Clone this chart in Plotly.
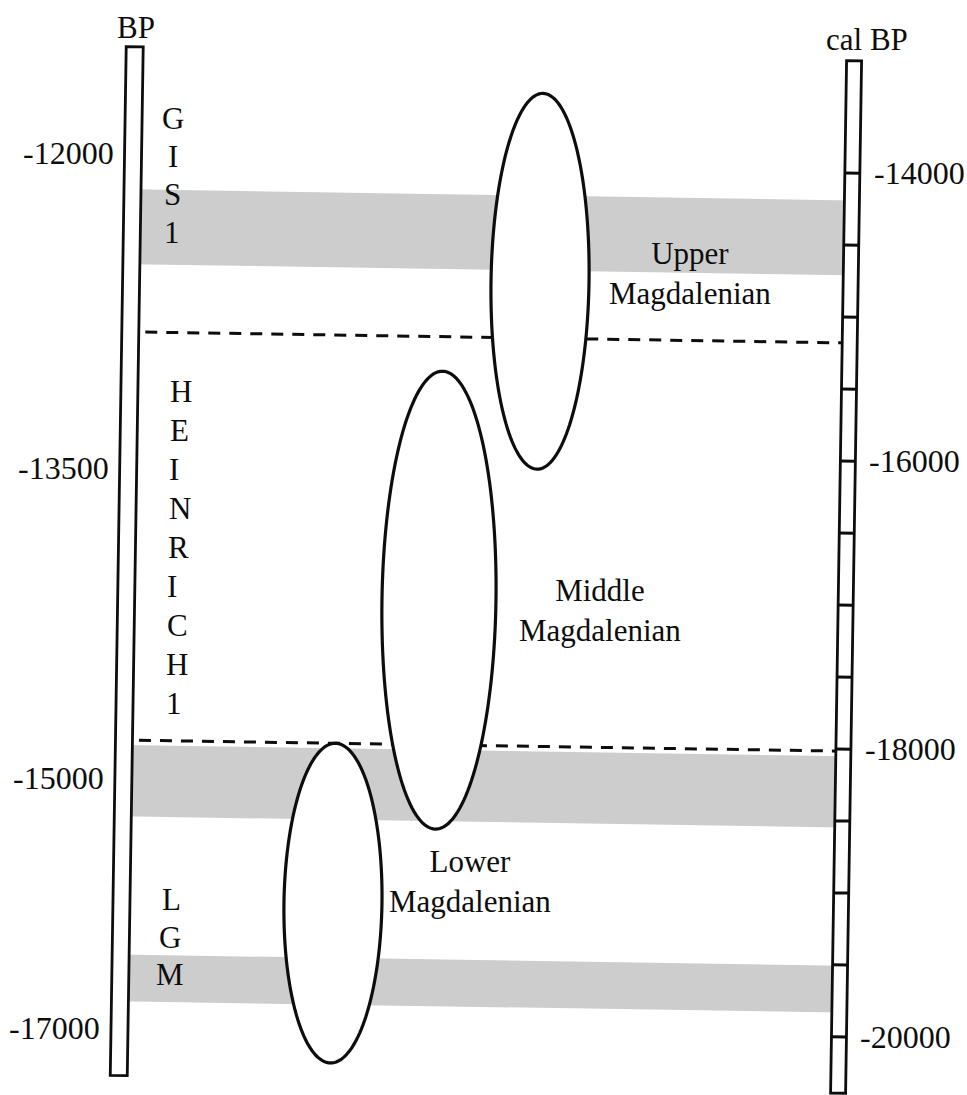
import math
import plotly.graph_objects as go

# ---------------- data ----------------
# right scale (cal BP): tick values
calbp_ticks = [-14000, -14500, -15000, -15500, -16000, -16500, -17000,
               -17500, -18000, -18500, -19000, -19500, -20000]
calbp_labels = [-14000, -16000, -18000, -20000]
# left scale (BP): labels and the cal BP level they sit at
bp_labels = [-12000, -13500, -15000, -17000]
bp_label_cal = [-13940, -16130, -18280, -20015]
# shaded climatic bands (cal BP from, to)
band_from = [-14190, -18050, -19505]
band_to = [-14710, -18545, -19830]
# dashed boundaries (cal BP)
boundaries = [-15180, -18015]
# cultural periods: names and cal BP spans of the ellipses
periods = ["Upper<br>Magdalenian", "Middle<br>Magdalenian", "Lower<br>Magdalenian"]
period_top = [-13480, -15420, -18015]
period_bottom = [-16090, -18600, -20235]
period_label_cal = [-14718, -17062, -18958]
# climatic event labels (written vertically, one letter per line)
events = [["G", "I", "S", "1"],
          ["H", "E", "I", "N", "R", "I", "C", "H", "1"],
          ["L", "G", "M"]]
event_cal = [-14090, -16674, -19378]

# ---------------- layout constants (pixels) ----------------
W, H = 967, 1095
PX_PER_YEAR = 0.144
V0 = 167.4                    # pixel row of -14000 cal BP
THETA = math.atan(0.0155)     # slight tilt of the scanned page
CX, CY = 483, 547

LEFT_BAR = (118.5, 135.5, -13200, -20345)
RIGHT_BAR = (839.0, 854.0, -13220, -20390)
BAND_U = (127, 846)
DASH_U = (142, 846)
ELL_U = [535.9, 439.8, 338.5]
ELL_A = [49, 57, 49]
EVENT_U = [166.7, 166.0, 176.5]
EVENT_ANCHOR = ["center", "left", "center"]
EVENT_STEP = [38.3, 38.9, 37.5]
PERIOD_U = [685.8, 601.0, 475.2]
FONT = "Liberation Serif, Times New Roman, serif"
INK = "#0d0d0d"


def v_of(cal):
    return V0 + (-14000 - cal) * PX_PER_YEAR


def cal_of(v):
    return -14000 - (v - V0) / PX_PER_YEAR


def place(u, cal):
    v = v_of(cal)
    c, s = math.cos(THETA), math.sin(THETA)
    x = CX + (u - CX) * c - (v - CY) * s
    y = CY + (u - CX) * s + (v - CY) * c
    return x, cal_of(y)


def poly_path(pts):
    return "M " + " L ".join(f"{x:.2f},{y:.3f}" for x, y in pts) + " Z"


def rect_path(u0, u1, c0, c1):
    return poly_path([place(u0, c0), place(u1, c0), place(u1, c1), place(u0, c1)])


shapes = []
# grey bands
for c0, c1 in zip(band_from, band_to):
    shapes.append(dict(type="path", path=rect_path(BAND_U[0], BAND_U[1], c0, c1),
                       xref="x", yref="y", fillcolor="#cdcdcd", line=dict(width=0),
                       layer="above"))
# dashed boundaries
for b in boundaries:
    x0, y0 = place(DASH_U[0], b)
    x1, y1 = place(DASH_U[1], b)
    shapes.append(dict(type="line", x0=x0, y0=y0, x1=x1, y1=y1, xref="x", yref="y",
                       line=dict(color=INK, width=3, dash="12px,9px"), layer="above"))
# ellipses
for cu, a, top, bot in zip(ELL_U, ELL_A, period_top, period_bottom):
    vt, vb = v_of(top), v_of(bot)
    cv, b = (vt + vb) / 2, (vb - vt) / 2
    pts = []
    for k in range(160):
        ph = 2 * math.pi * k / 160
        u = cu + a * math.cos(ph)
        v = cv + b * math.sin(ph)
        pts.append(place(u, cal_of(v)))
    shapes.append(dict(type="path", path=poly_path(pts), xref="x", yref="y",
                       fillcolor="white", line=dict(color=INK, width=3.2),
                       layer="above"))
# scale bars
for u0, u1, c0, c1 in (LEFT_BAR, RIGHT_BAR):
    shapes.append(dict(type="path", path=rect_path(u0, u1, c0, c1), xref="x", yref="y",
                       fillcolor="white", line=dict(color=INK, width=2.8),
                       layer="above"))
# ticks on the cal BP bar
for t in calbp_ticks:
    x0, y0 = place(RIGHT_BAR[0], t)
    x1, y1 = place(RIGHT_BAR[1], t)
    shapes.append(dict(type="line", x0=x0, y0=y0, x1=x1, y1=y1, xref="x", yref="y",
                       line=dict(color=INK, width=3), layer="above"))

annotations = []


def add_text(text, u, cal, size=31, xanchor="center", align="center"):
    x, y = place(u, cal)
    annotations.append(dict(text=text, x=x, y=y, xref="x", yref="y",
                            xanchor=xanchor, yanchor="middle", align=align,
                            showarrow=False,
                            font=dict(family=FONT, size=size, color=INK)))


# titles
add_text("BP", 128, cal_of(33.4))
add_text("cal BP", 859, cal_of(34))
# left labels
for lab, c in zip(bp_labels, bp_label_cal):
    add_text(str(lab), 109.5, c, size=32, xanchor="right")
# right labels
for lab in calbp_labels:
    add_text(str(lab), 866, lab, size=32, xanchor="left")
# event letters
for letters, u, c, anc, step in zip(events, EVENT_U, event_cal, EVENT_ANCHOR, EVENT_STEP):
    vc = v_of(c)
    n = len(letters)
    for i, ch in enumerate(letters):
        v = vc + (i - (n - 1) / 2) * step
        add_text(ch, u, cal_of(v), size=31, xanchor=anc)
# period labels
for txt, u, c in zip(periods, PERIOD_U, period_label_cal):
    add_text(txt, u, c, size=31)

fig = go.Figure()
fig.add_trace(go.Scatter(x=[None], y=[None], showlegend=False, hoverinfo="skip"))
fig.update_layout(
    width=W, height=H, autosize=False,
    margin=dict(l=0, r=0, t=0, b=0),
    paper_bgcolor="white", plot_bgcolor="white",
    showlegend=False,
    shapes=shapes, annotations=annotations,
    xaxis=dict(range=[0, W], visible=False, fixedrange=True),
    yaxis=dict(range=[cal_of(H), cal_of(0)], visible=False, fixedrange=True),
)
fig.write_html("out.html",
               config={"displayModeBar": False, "staticPlot": True},
               post_script="document.body.style.margin='0px';document.body.style.overflow='hidden';")
